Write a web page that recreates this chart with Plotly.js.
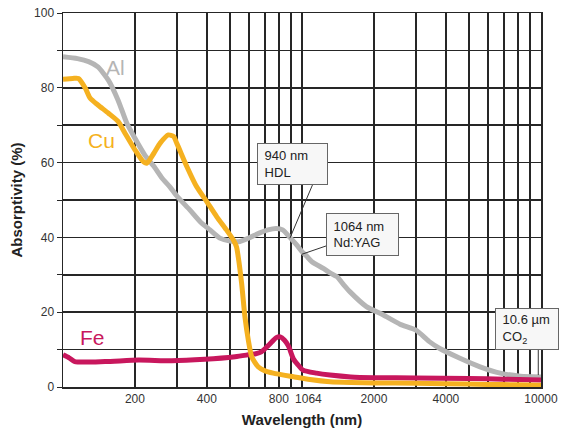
<!DOCTYPE html>
<html>
<head>
<meta charset="utf-8">
<script src="https://cdn.plot.ly/plotly-3.0.1.min.js"></script>
<style>
  html, body { margin: 0; padding: 0; background: #ffffff; }
  #chart { width: 563px; height: 433px; }
</style>
</head>
<body>
<div id="chart"></div>
<script>
// ---- data (wavelength in nm, absorptivity in %) ----
const alWavelength = [100, 115, 128, 140, 155, 170, 185, 200, 220, 240, 260, 280, 300, 340, 375, 412, 453, 500, 550, 607, 666, 720, 780, 830, 890, 950, 1000, 1045, 1100, 1228, 1310, 1400, 1500, 1585, 1860, 2180, 2570, 3000, 3400, 3770, 4580, 5560, 6750, 8200, 10000];
const alAbsorb     = [88.3, 87.8, 87.0, 85.6, 82.0, 76.7, 70.5, 66.5, 62.0, 59.0, 55.8, 53.5, 51.0, 47.3, 44.2, 42.0, 39.8, 39.0, 38.9, 40.0, 41.2, 42.0, 42.4, 42.0, 40.0, 38.0, 36.2, 35.0, 33.5, 31.7, 30.5, 29.5, 27.2, 25.5, 21.5, 19.3, 16.8, 15.2, 12.2, 10.3, 7.7, 5.4, 3.7, 2.9, 2.7];

const cuWavelength = [100, 110, 116, 124, 130, 140, 155, 170, 182, 200, 215, 224, 240, 255, 276, 290, 300, 330, 362, 400, 440, 483, 516, 532, 541, 559, 577, 596, 616, 655, 700, 758, 921, 1080, 1310, 1600, 2000, 3000, 4000, 6000, 8000, 10000];
const cuAbsorb     = [82.3, 82.5, 82.5, 79.9, 77.2, 75.4, 73.2, 71.0, 67.8, 63.4, 60.5, 59.8, 62.5, 65.2, 67.4, 67.0, 65.0, 58.9, 53.6, 49.5, 45.5, 42.0, 39.3, 37.5, 34.8, 27.7, 18.8, 12.6, 8.1, 5.4, 4.3, 3.7, 2.75, 2.0, 1.4, 1.2, 1.1, 1.0, 0.9, 0.7, 0.6, 0.5];

const feWavelength = [100, 106, 112, 150, 207, 285, 392, 525, 596, 640, 676, 720, 749, 780, 811, 845, 877, 921, 960, 1010, 1150, 1310, 1600, 2000, 3000, 5000, 7000, 10000];
const feAbsorb     = [8.6, 7.8, 6.8, 6.8, 7.2, 7.0, 7.4, 8.1, 8.6, 8.9, 9.4, 11.0, 12.1, 13.2, 13.4, 12.5, 11.0, 7.5, 6.0, 4.5, 3.7, 3.2, 2.7, 2.5, 2.4, 2.3, 2.1, 1.9];

const xTickVals = [200, 400, 800, 1064, 2000, 4000, 10000];
const xTickText = ['200', '400', '800', '1064', '2000', '4000', '10000'];
const xGridVals = [100, 200, 300, 400, 500, 600, 700, 800, 900, 1000, 2000, 3000, 4000, 5000, 6000, 7000, 8000, 9000, 10000];

// laser marker points on the Al curve [wavelength nm, absorptivity %]
const hdlPoint   = [890, 39.8];
const yagPoint   = [1000, 35.5];
const co2Point   = [9740, 3.2];

const FONT = 'Liberation Sans, Arial, Helvetica, sans-serif';
const GRID = '#262626';
const alColor = '#b5b5b5';
const cuColor = '#f5b120';
const feColor = '#c8175d';

const traces = [
  { x: alWavelength, y: alAbsorb, name: 'Al', type: 'scatter', mode: 'lines',
    line: { color: alColor, width: 5, shape: 'spline', smoothing: 0.6 } },
  { x: feWavelength, y: feAbsorb, name: 'Fe', type: 'scatter', mode: 'lines',
    line: { color: feColor, width: 5, shape: 'spline', smoothing: 0.6 } },
  { x: cuWavelength, y: cuAbsorb, name: 'Cu', type: 'scatter', mode: 'lines',
    line: { color: cuColor, width: 5, shape: 'spline', smoothing: 0.6 } }
];

// leader line anchored at a data point, tail offset in pixels (dy positive = up)
function leader(pt, dx, dy) {
  return { type: 'line', xref: 'x', yref: 'y', layer: 'above',
    xsizemode: 'pixel', ysizemode: 'pixel', xanchor: pt[0], yanchor: pt[1],
    x0: 0, y0: 0, x1: dx, y1: dy, line: { color: '#333', width: 1 } };
}
function box(text, px, py, w, h) {
  return { xref: 'paper', yref: 'paper', x: (px - 63) / 478, y: (387 - py) / 374,
    xanchor: 'center', yanchor: 'middle', text: text, showarrow: false,
    align: 'left', valign: 'middle', width: w - 8, height: h - 8,
    bgcolor: '#f7f7f7', bordercolor: '#666', borderwidth: 1, borderpad: 3,
    font: { family: FONT, size: 13, color: '#222' } };
}
function label(text, px, py, color) {
  return { xref: 'paper', yref: 'paper', x: (px - 63) / 478, y: (387 - py) / 374,
    xanchor: 'center', yanchor: 'middle', text: text, showarrow: false,
    font: { family: FONT, size: 21, color: color } };
}

const layout = {
  width: 563, height: 433,
  margin: { l: 63, r: 22, t: 13, b: 46, pad: 0 },
  paper_bgcolor: '#ffffff', plot_bgcolor: '#ffffff',
  showlegend: false,
  font: { family: FONT, color: '#333' },
  xaxis: {
    type: 'log', range: [2, 4],
    tickmode: 'array', tickvals: xTickVals, ticktext: xTickText,
    showgrid: false, ticks: '', zeroline: false,
    showline: true, mirror: true, linecolor: GRID, linewidth: 1.5,
    tickfont: { family: FONT, size: 12, color: '#333' },
    minor: { tickmode: 'array', tickvals: xGridVals, showgrid: true, gridcolor: GRID, gridwidth: 1.5, ticks: '' },
    title: { text: '<b>Wavelength (nm)</b>', font: { family: FONT, size: 15, color: '#222' }, standoff: 9 }
  },
  yaxis: {
    range: [0, 100], tickmode: 'linear', tick0: 0, dtick: 20,
    showgrid: true, gridcolor: GRID, gridwidth: 1.5, zeroline: false,
    ticks: 'outside', ticklen: 5, tickcolor: GRID, tickwidth: 1,
    showline: true, mirror: true, linecolor: GRID, linewidth: 1.5,
    tickfont: { family: FONT, size: 12, color: '#333' },
    minor: { dtick: 10, showgrid: true, gridcolor: GRID, gridwidth: 1.5, ticks: 'outside', ticklen: 5, tickcolor: GRID },
    title: { text: '<b>Absorptivity (%)</b>', font: { family: FONT, size: 15, color: '#222' }, standoff: 8 }
  },
  shapes: [
    leader(hdlPoint, 28, 66),
    leader(yagPoint, 32, 11),
    leader(co2Point, -5, 35)
  ],
  annotations: [
    box('&nbsp;940 nm<br>&nbsp;HDL', 292.5, 164, 71, 42),
    box('&nbsp;1064 nm<br>&nbsp;Nd:YAG', 362.5, 235, 73, 43),
    box('&nbsp;10.6 µm<br>&nbsp;CO<sub>2</sub>', 527, 329, 64, 42),
    label('Al', 115.5, 67.5, alColor),
    label('Cu', 101.5, 140.5, cuColor),
    label('Fe', 92.5, 337, feColor)
  ]
};

Plotly.newPlot('chart', traces, layout, { displayModeBar: false, staticPlot: true });
</script>
</body>
</html>
